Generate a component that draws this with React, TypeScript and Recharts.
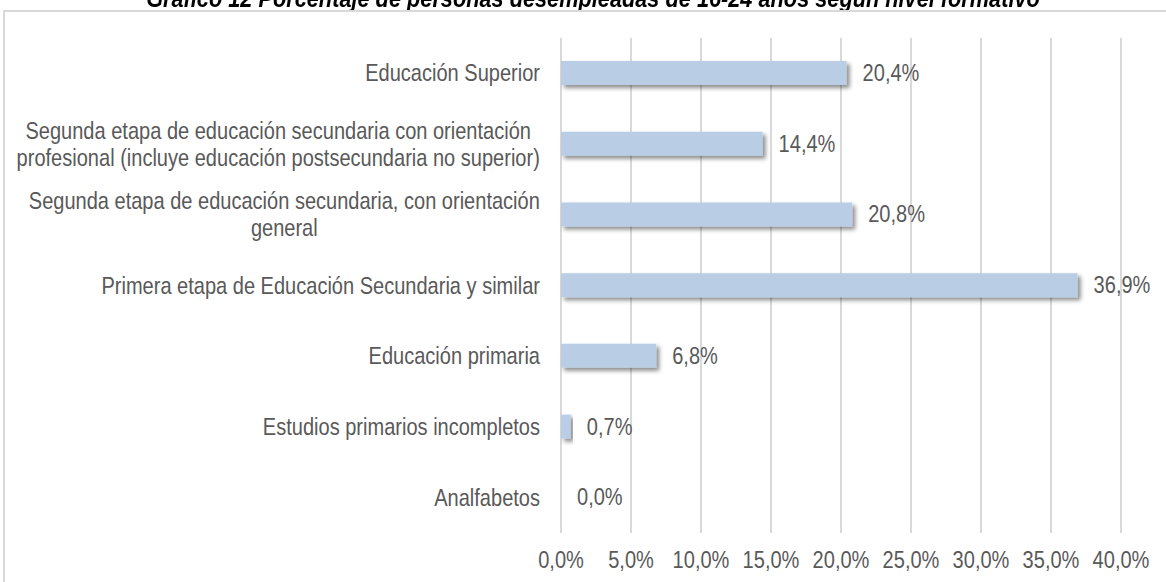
import { BarChart, Bar, XAxis, YAxis, CartesianGrid, LabelList } from 'recharts';

const CATEGORIES = [
    ['Educación Superior'],
    ['Segunda etapa de educación secundaria con orientación', 'profesional (incluye educación postsecundaria no superior)'],
    ['Segunda etapa de educación secundaria, con orientación', 'general'],
    ['Primera etapa de Educación Secundaria y similar'],
    ['Educación primaria'],
    ['Estudios primarios incompletos'],
    ['Analfabetos'],
];
const VALUES = [20.4, 14.4, 20.8, 36.9, 6.8, 0.7, 0.0];
const X_TICKS = [0, 5, 10, 15, 20, 25, 30, 35, 40];
const TITLE = 'Gráfico 12 Porcentaje de personas desempleadas de 16-24 años según nivel formativo';

// no Arial Narrow here, so squeeze Liberation Sans horizontally
const FONT = '"Liberation Sans", Arial, sans-serif';
const FONT_SIZE = 24;
const NARROW = 0.835;
const TEXT = '#595959';

const data = CATEGORIES.map((lines, i) => ({ key: String(i), lines, value: VALUES[i] }));

const pct = (v: number) => v.toFixed(1).replace('.', ',') + '%';

let ctx: CanvasRenderingContext2D | null = null;
function measure(s: string) {
    if (!ctx) ctx = document.createElement('canvas').getContext('2d');
    if (!ctx) return s.length * 11;
    ctx.font = `${FONT_SIZE}px ${FONT}`;
    return ctx.measureText(s).width;
}

function NarrowText({ x, y, anchor, children }: { x: number; y: number; anchor: string; children: any }) {
    return (
        <g transform={`translate(${x},${y}) scale(${NARROW},1)`}>
            <text x={0} y={0} textAnchor={anchor} fill={TEXT} fontSize={FONT_SIZE} fontFamily={FONT}>
                {children}
            </text>
        </g>
    );
}

function CategoryTick(props: any) {
    const { x, y, payload } = props;
    const lines: string[] = CATEGORIES[Number(payload.value)];
    const right = x - 13;
    const lh = 27;
    const base = 8; // baseline offset from line centre
    if (lines.length === 1) {
        return <NarrowText x={right} y={y + base} anchor="end">{lines[0]}</NarrowText>;
    }
    const w = Math.max(...lines.map(measure)) * NARROW;
    const cx = right - w / 2;
    const top = y - ((lines.length - 1) * lh) / 2;
    return (
        <g>
            {lines.map((l, i) => (
                <NarrowText key={i} x={cx} y={top + i * lh + base} anchor="middle">{l}</NarrowText>
            ))}
        </g>
    );
}

function ValueTick(props: any) {
    const { x, y, payload } = props;
    return <NarrowText x={x} y={y + 27} anchor="middle">{pct(payload.value)}</NarrowText>;
}

function ValueLabel(props: any) {
    const { x, y, width, height, value } = props;
    return <NarrowText x={Number(x) + Number(width) + 16} y={Number(y) + Number(height) / 2 + 8} anchor="start">{pct(Number(value))}</NarrowText>;
}

export default function App() {
    return (
        <div style={{ position: 'absolute', left: 0, top: 0, width: 1166, height: 582, overflow: 'hidden', background: '#fff' }}>
            <div
                style={{
                    position: 'absolute', left: 0, width: 1186, textAlign: 'center', top: -17,
                    fontFamily: FONT, fontWeight: 'bold', fontStyle: 'italic', fontSize: 26.5, color: '#000',
                    lineHeight: '30px', whiteSpace: 'nowrap', transform: 'scaleX(0.82)', transformOrigin: '593px 0',
                }}
            >
                {TITLE}
            </div>
            <div style={{ position: 'absolute', left: 3, top: 10, width: 1300, height: 700, border: '2px solid #d9d9d9' }} />
            <div style={{ position: 'absolute', left: 0, top: 0 }}>
                <BarChart
                    width={1166}
                    height={582}
                    data={data}
                    layout="vertical"
                    margin={{ top: 38, right: 45, bottom: 0, left: 0 }}
                    barCategoryGap={0}
                    barSize={24}
                >
                    <defs>
                        <filter id="barShadow" x="-20%" y="-50%" width="140%" height="200%">
                            <feDropShadow dx="3" dy="3" stdDeviation="2" floodColor="#000" floodOpacity="0.45" />
                        </filter>
                    </defs>
                    <CartesianGrid horizontal={false} stroke="#d9d9d9" strokeWidth={2} />
                    <XAxis
                        type="number"
                        domain={[0, 40]}
                        ticks={X_TICKS}
                        interval={0}
                        axisLine={false}
                        tickLine={false}
                        height={49}
                        tick={<ValueTick />}
                    />
                    <YAxis
                        type="category"
                        dataKey="key"
                        width={561}
                        axisLine={false}
                        tickLine={false}
                        interval={0}
                        tick={<CategoryTick />}
                    />
                    <Bar dataKey="value" fill="#b9cde5" isAnimationActive={false} filter="url(#barShadow)" minPointSize={0.01}>
                        <LabelList dataKey="value" content={<ValueLabel />} />
                    </Bar>
                </BarChart>
            </div>
        </div>
    );
}
